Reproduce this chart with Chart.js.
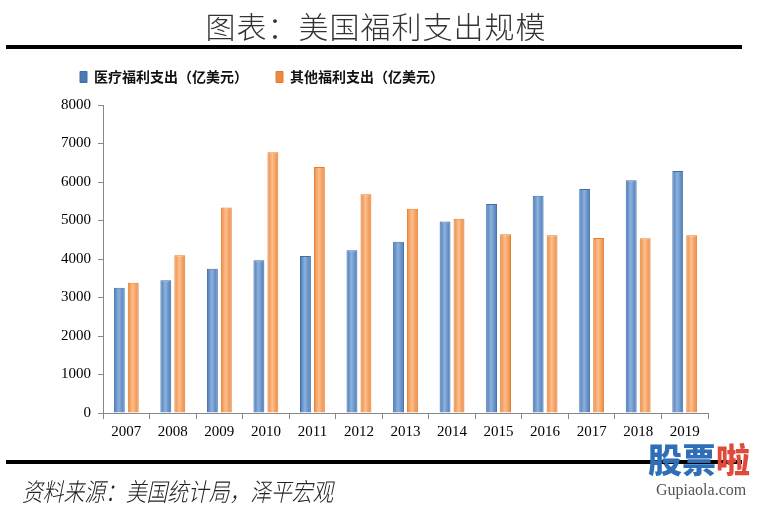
<!DOCTYPE html>
<html>
<head>
<meta charset="utf-8">
<script src="https://cdn.jsdelivr.net/npm/chart.js@4.4.1/dist/chart.umd.min.js"></script>
<style>
    html, body { margin: 0; padding: 0; background: #fff; }
    #wrap { position: relative; width: 764px; height: 511px; overflow: hidden; }
    #chart { position: absolute; left: 0; top: 0; }
    .title {
        position: absolute; left: 0; width: 752px; top: 3px; text-align: center;
        font-family: "Noto Sans CJK SC", sans-serif; font-weight: 300;
        font-size: 30px; color: #333; letter-spacing: 1px;
    }
    .rule { position: absolute; left: 6px; width: 736px; height: 4px; background: #000; }
    .source {
        position: absolute; left: 22px; top: 472px;
        font-family: "Noto Sans CJK SC", sans-serif; font-weight: 300;
        font-size: 25px; font-style: italic; color: #222;
        transform: scaleX(0.83); transform-origin: left top;
    }
    .mark { position: absolute; left: 648px; top: 439px; font-family: "Noto Sans CJK SC", sans-serif; }
    .mark .big { font-size: 34px; font-weight: 900; line-height: 40px; letter-spacing: 0px; }
    .mark .small { font-family: "Liberation Serif", serif; font-size: 16px; color: #555; margin-left: 8px; line-height: 22px; }
</style>
</head>
<body>
<div id="wrap">
    <canvas id="chart" width="764" height="511"></canvas>
    <div class="title">图表：美国福利支出规模</div>
    <div class="rule" style="top:45px"></div>
    <div class="rule" style="top:460px"></div>
    <div class="source">资料来源：美国统计局，泽平宏观</div>
    <div class="mark">
        <div class="big"><span style="color:#2f6fb8">股票</span><span style="color:#e04a3a">啦</span></div>
        <div class="small">Gupiaola.com</div>
    </div>
</div>
<script>
// 年份
const years = ['2007', '2008', '2009', '2010', '2011', '2012', '2013', '2014', '2015', '2016', '2017', '2018', '2019'];
// 医疗福利支出（亿美元）
const medicalSpend = [3255, 3445, 3745, 3970, 4075, 4230, 4450, 4975, 5430, 5645, 5820, 6045, 6285];
// 其他福利支出（亿美元）
const otherSpend = [3385, 4100, 5340, 6770, 6390, 5680, 5305, 5045, 4645, 4620, 4545, 4540, 4620];
// 纵轴刻度
const yTicks = [0, 1000, 2000, 3000, 4000, 5000, 6000, 7000, 8000];

const serif = 'Liberation Serif';

// 柱子的横向渐变（边缘深，中间浅）
function barGradient(dark, light, solid) {
    return function(context) {
        const el = context.element;
        if (!el || el.x == null || !el.width) {
            return solid;
        }
        const g = context.chart.ctx.createLinearGradient(el.x - el.width / 2, 0, el.x + el.width / 2, 0);
        g.addColorStop(0, dark);
        g.addColorStop(0.45, light);
        g.addColorStop(1, dark);
        return g;
    };
}

// 把图例挪到左上方，和原图一致
const moveLegend = {
    id: 'moveLegend',
    afterLayout(chart) {
        const lg = chart.legend;
        lg.left = 0;
        lg.right = 524;
        lg.top -= 11;
        lg.bottom -= 11;
    },
};

const config = {
    type: 'bar',
    data: {
        labels: years,
        datasets: [{
            label: '医疗福利支出（亿美元）',
            data: medicalSpend,
            backgroundColor: barGradient('#4a79b6', '#8cb1dd', '#6b95c9'),
            borderColor: '#3e6ea8',
            borderWidth: 1,
            categoryPercentage: 0.6,
            barPercentage: 0.78,
        }, {
            label: '其他福利支出（亿美元）',
            data: otherSpend,
            backgroundColor: barGradient('#ec8840', '#fcbf8d', '#f9a45f'),
            borderColor: '#e27f31',
            borderWidth: 1,
            categoryPercentage: 0.6,
            barPercentage: 0.78,
        }],
    },
    options: {
        responsive: false,
        animation: false,
        layout: { padding: { top: 53, right: 56, bottom: 66, left: 0 } },
        plugins: {
            tooltip: { enabled: false },
            legend: {
                position: 'top',
                labels: {
                    boxWidth: 7,
                    boxHeight: 11,
                    padding: 28,
                    color: '#111',
                    font: { family: 'Noto Sans CJK SC', size: 14, weight: 'bold' },
                },
            },
        },
        scales: {
            x: {
                offset: true,
                grid: { display: true, drawOnChartArea: false, offset: true, tickLength: 6, color: '#888' },
                border: { color: '#888' },
                ticks: { color: '#000', padding: 4, font: { family: serif, size: 15 } },
            },
            y: {
                min: 0,
                max: 8000,
                afterBuildTicks: axis => { axis.ticks = yTicks.map(v => ({ value: v })); },
                afterFit: axis => { axis.width = 103; },
                grid: { display: true, drawOnChartArea: false, tickLength: 5, color: '#888' },
                border: { color: '#888' },
                ticks: {
                    color: '#000',
                    padding: 7,
                    font: { family: serif, size: 15 },
                    callback: value => String(value),
                },
            },
        },
    },
    plugins: [moveLegend],
};

const chart = new Chart(document.getElementById('chart').getContext('2d'), config);
// 第二次更新时柱子已有位置，渐变才能生效
chart.update();
</script>
</body>
</html>
